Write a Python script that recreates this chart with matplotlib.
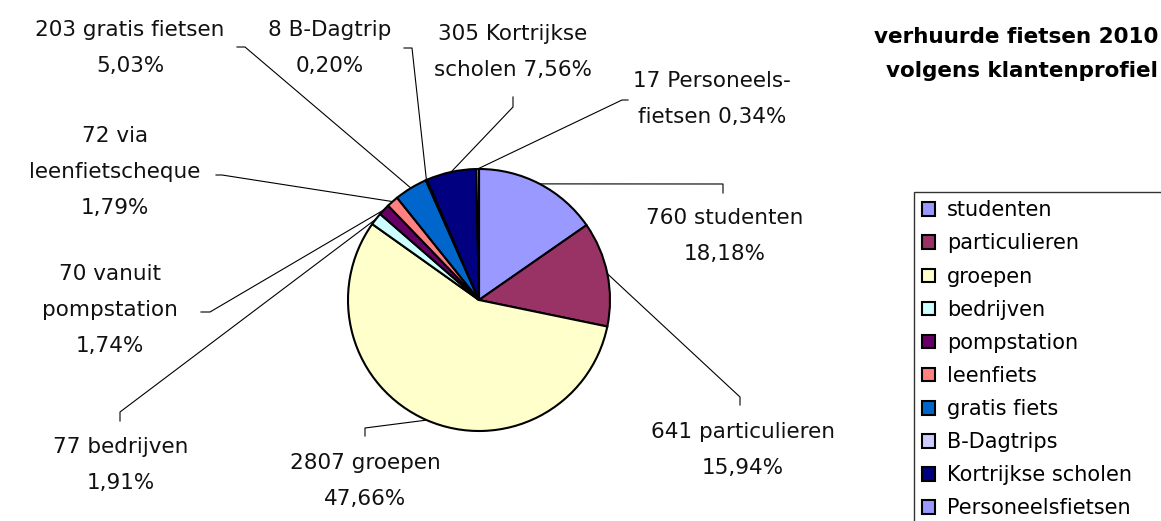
import matplotlib
matplotlib.use("Agg")
import matplotlib.pyplot as plt
import numpy as np

W, H = 1161, 521

categories = ["studenten", "particulieren", "groepen", "bedrijven", "pompstation",
              "leenfiets", "gratis fiets", "B-Dagtrips", "Kortrijkse scholen",
              "Personeelsfietsen"]
values = [760, 641, 2807, 77, 70, 72, 203, 8, 305, 17]
label_texts = ["760 studenten\n18,18%", "641 particulieren\n15,94%",
               "2807 groepen\n47,66%", "77 bedrijven\n1,91%",
               "70 vanuit\npompstation\n1,74%", "72 via\nleenfietscheque\n1,79%",
               "203 gratis fietsen\n5,03%", "8 B-Dagtrip\n0,20%",
               "305 Kortrijkse\nscholen 7,56%", "17 Personeels-\nfietsen 0,34%"]
colors = ["#9999FF", "#993366", "#FFFFCC", "#CCFFFF", "#660066",
          "#FF8080", "#0066CC", "#CCCCFF", "#000080", "#9999FF"]
title = "verhuurde fietsen 2010\nvolgens klantenprofiel"

plt.rcParams['font.family'] = ['DejaVu Sans']

fig = plt.figure(figsize=(W / 100, H / 100), dpi=100)
ax = fig.add_axes([0, 0, 1, 1])

def Y(py):
    return H - py

cx, cy, r = 479, Y(300), 131
wedges, _ = ax.pie(values, colors=colors, startangle=90, counterclock=False,
                   center=(cx, cy), radius=r, frame=True,
                   wedgeprops=dict(edgecolor="black", linewidth=1.5))
ax.set_xlim(0, W)
ax.set_ylim(0, H)
ax.axis("off")
ax.set_aspect("equal")

# label layout: text center (px) and leader elbow points (px)
layout = [
    ((725, 236), [(723, 184), (723, 193)]),
    ((743, 450), [(740, 397), (740, 405)]),
    ((365, 481), [(365, 428), (365, 436)]),
    ((121, 465), [(120, 412), (120, 421)]),
    ((110, 310), [(210, 312), (201, 312)]),
    ((115, 172), [(222, 175), (216, 175)]),
    ((130, 48), [(245, 47), (237, 47)]),
    ((330, 48), [(412, 48), (404, 48)]),
    ((513, 52), [(513, 107), (513, 97)]),
    ((712, 99), [(622, 100), (628, 100)]),
]

for w, txt, (tpos, path) in zip(wedges, label_texts, layout):
    ang = np.deg2rad((w.theta1 + w.theta2) / 2)
    sx = cx + r * np.cos(ang)
    sy = cy + r * np.sin(ang)
    xs = [sx] + [p[0] for p in path]
    ys = [sy] + [Y(p[1]) for p in path]
    ax.plot(xs, ys, color="black", lw=0.8, zorder=0.5)
    ax.text(tpos[0], Y(tpos[1]), txt, ha="center", va="center",
            fontsize=15.5, linespacing=2.0, color="#111111")

ax.text(1158, Y(54), title, ha="right", va="center", fontsize=15.5,
        fontweight="bold", linespacing=1.85)

leg = ax.legend(wedges, categories, loc="upper left",
                bbox_to_anchor=(914 / W, 1 - 192 / H - 0.01, 260 / W, 0.01),
                mode="expand", fontsize=15,
                handlelength=0.62, handleheight=0.62, handletextpad=0.55,
                labelspacing=0.63, borderpad=0.4, borderaxespad=0,
                fancybox=False, frameon=True, edgecolor="black")
leg.get_frame().set_linewidth(1.0)

fig.savefig("out.png", dpi=100)
